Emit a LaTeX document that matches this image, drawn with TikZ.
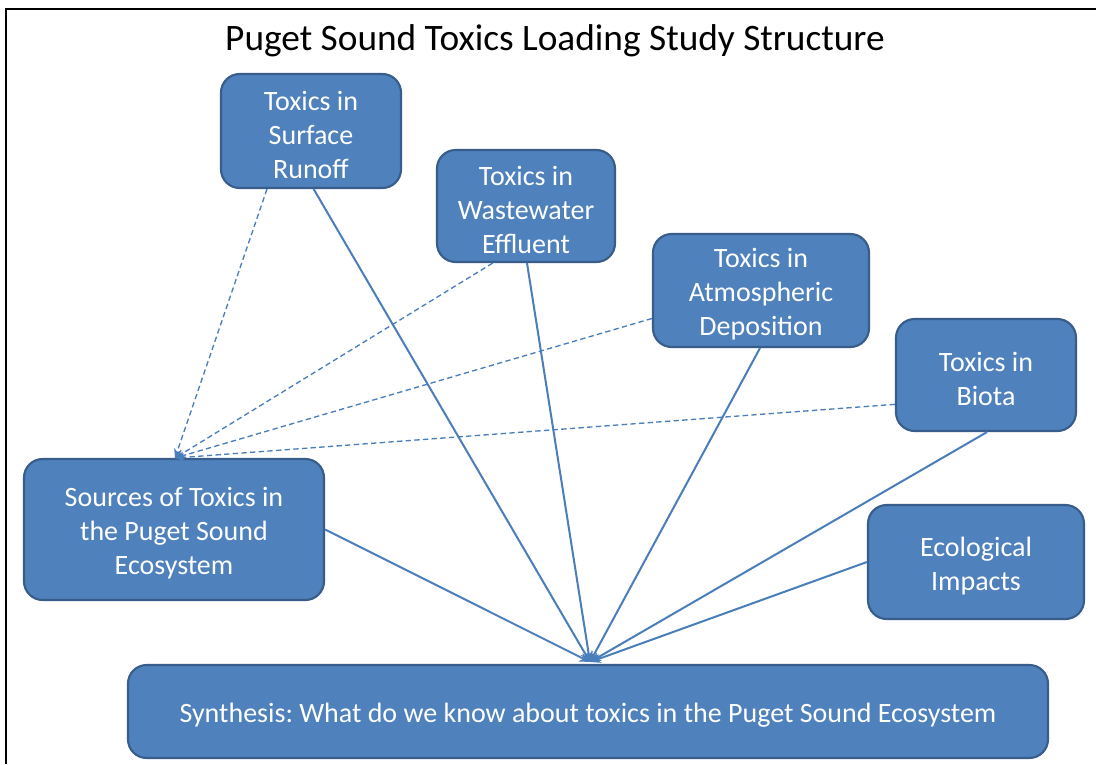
\documentclass[tikz,border=0pt]{standalone}
\usepackage{fontspec}
\setmainfont{Carlito}
\usetikzlibrary{arrows.meta}
\definecolor{boxfill}{HTML}{4F81BD}
\definecolor{boxline}{HTML}{385D8A}
\definecolor{conn}{HTML}{4A7EBB}
\frenchspacing
\tikzset{
  box/.style={draw=boxline, fill=boxfill, line width=1.6pt, rounded corners=14pt, inner sep=0pt},
  txt/.style={text=white, align=center, font=\fontsize{21}{25.5}\selectfont, inner sep=0pt, yshift=-2.8pt},
  solidc/.style={draw=conn, line width=1.5pt, -{Stealth[length=8pt,width=7pt]}},
  dashc/.style={draw=conn, line width=1pt, dash pattern=on 4pt off 2.5pt, -{Stealth[length=7pt,width=6pt]}},
  frame/.style={line width=1.5pt, black}
}
\begin{document}
\begin{tikzpicture}[x=0.75pt,y=-0.75pt]
\useasboundingbox (0,0) rectangle (1096,764);
\fill[white] (0,0) rectangle (1096,764);
\draw[frame] (1096,9) -- (6,9) -- (6,764);
\node[font=\fontsize{28}{33}\selectfont] (title) at (555,40.5) {Puget Sound Toxics Loading Study Structure};

\node[box, minimum width=135pt, minimum height=85.5pt, label={[txt]center:{Toxics in\\Surface\\Runoff}}] (sr) at (311,131) {};
\node[box, minimum width=133.5pt, minimum height=84pt, label={[txt]center:{Toxics in\\Wastewater\\Effluent}}] (ww) at (526,206) {};
\node[box, minimum width=162pt, minimum height=84.75pt, label={[txt]center:{Toxics in\\Atmospheric\\Deposition}}] (at) at (761,290.5) {};
\node[box, minimum width=135pt, minimum height=84pt, label={[txt]center:{Toxics in\\Biota}}] (bi) at (986,375) {};
\node[box, minimum width=225pt, minimum height=105.75pt, label={[txt]center:{Sources of Toxics in\\the Puget Sound\\Ecosystem}}] (so) at (174,529.5) {};
\node[box, minimum width=162pt, minimum height=85.5pt, label={[txt]center:{Ecological\\Impacts}}] (ec) at (976,562) {};
\node[box, minimum width=690pt, minimum height=69.75pt, label={[txt]center:{Synthesis: What do we know about toxics in the Puget Sound Ecosystem}}] (sy) at (588,711.5) {};

\coordinate (hub) at (590,662);
\coordinate (shub) at (175,458);

\draw[dashc] ([xshift=-33pt]sr.south) -- (shub);
\draw[dashc] ([xshift=-25pt]ww.south) -- (shub);
\draw[dashc] ([yshift=-21pt]at.west) -- (shub);
\draw[dashc] ([yshift=-22pt]bi.west) -- (shub);

\draw[solidc] ([xshift=2pt]sr.south) -- (hub);
\draw[solidc] ([xshift=0.75pt]ww.south) -- (hub);
\draw[solidc] ([xshift=-0.75pt]at.south) -- (hub);
\draw[solidc] ([xshift=0.75pt]bi.south) -- (hub);
\draw[solidc] (so.east) -- (hub);
\draw[solidc] (ec.west) -- (hub);
\end{tikzpicture}
\end{document}
